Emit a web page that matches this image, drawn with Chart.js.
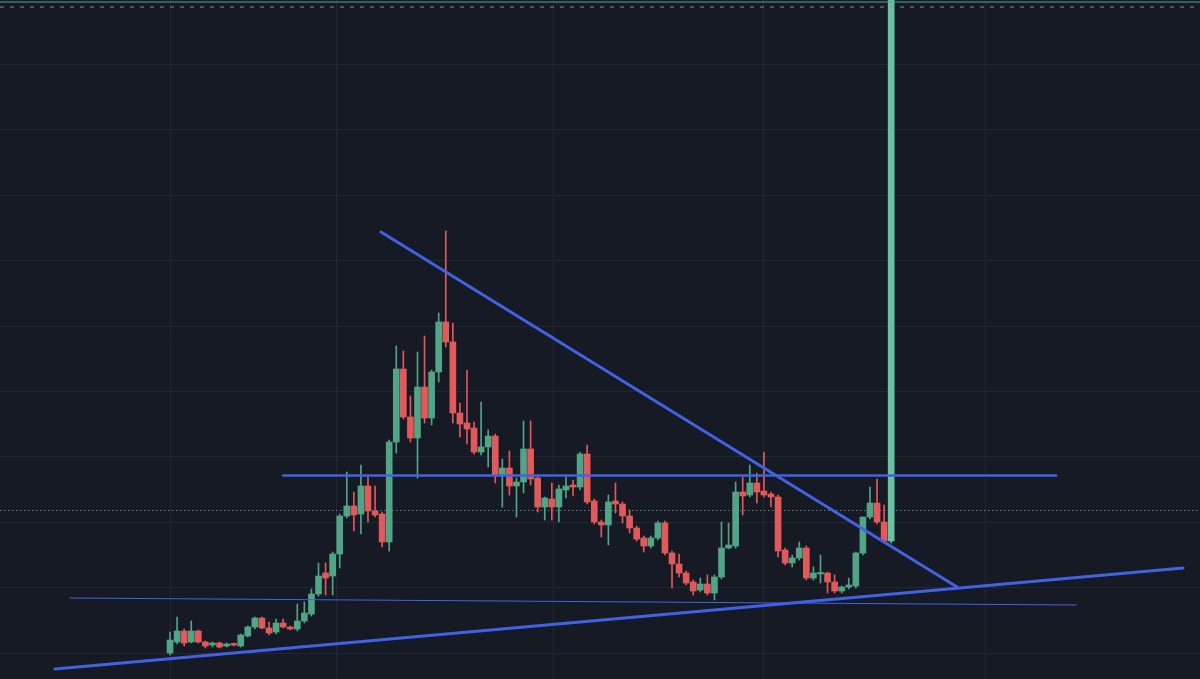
<!DOCTYPE html>
<html>
<head>
<meta charset="utf-8">
<script src="https://cdn.jsdelivr.net/npm/chart.js@4.4.1/dist/chart.umd.min.js"></script>
<style>
  html, body { margin: 0; padding: 0; background: #161a25; }
  #wrap { width: 1200px; height: 679px; }
</style>
</head>
<body>
<div id="wrap"><canvas id="c" width="1200" height="679"></canvas></div>
<script>
// Candle values (arbitrary price units)
const opens = [26,37,48,37,48,37,34,36,33,35,
  33,43,52,61,51,47,56,52,50,58,
  65,85,106,103,125,163,173,165,193,168,
  165,137,237,310,262,241,292,261,307,357,
  337,266,256,251,227,232,243,204,211,193,
  197,230,201,172,180,172,189,194,192,225,
  178,157,154,178,175,163,151,141,133,141,
  156,126,115,106,97,89,95,86,102,131,
  133,187,184,196,188,185,182,129,116,121,
  131,101,105,106,97,88,92,93,126,162,176,157,138];
const highs = [47,62,50,58,49,38,37,37,36,36,
  45,53,62,62,57,60,60,53,75,77,
  90,116,116,127,165,207,187,214,202,193,
  167,239,333,328,283,327,343,309,366,448,
  356,276,309,257,277,249,245,220,228,201,
  258,258,203,182,196,194,202,199,227,234,
  180,159,184,196,177,169,153,143,143,158,
  158,128,125,108,99,101,104,104,157,156,
  197,202,214,206,227,187,184,131,124,137,
  133,112,124,107,104,93,101,127,162,192,200,174,700];
const lows = [24,35,33,36,36,31,32,31,32,33,
  32,42,50,50,44,45,51,49,48,56,
  63,83,84,84,111,161,148,145,157,162,
  132,128,226,260,237,201,256,254,297,332,
  256,242,235,225,224,212,196,172,184,162,
  186,194,167,159,159,157,181,183,189,175,
  155,142,134,166,156,146,138,127,131,139,
  124,91,102,94,84,87,84,79,100,130,
  131,164,182,176,182,172,122,114,112,119,
  99,99,96,86,86,86,90,91,124,160,155,136,136];
const closes = [39,48,36,48,37,33,36,32,35,34,
  44,52,61,51,46,56,52,50,58,66,
  85,103,101,125,163,173,164,193,168,164,
  137,237,310,262,241,292,261,307,357,337,
  266,255,250,227,232,243,204,211,193,197,
  230,200,172,181,172,190,193,192,225,177,
  157,154,177,175,163,151,140,133,141,156,
  126,115,106,96,88,95,86,102,131,134,
  187,183,196,187,184,182,128,116,121,131,
  101,106,106,97,88,92,94,126,162,176,157,138,700];

// Drawn trend lines: [x1, y1, x2, y2] in candle-index / price units
const descendingLine = [29.84, 447, 111.32, 92];
const resistanceLine = [15.98, 203.5, 125.32, 203.5];
const thinSupportLine = [-14.14, 81, 128.15, 74];
const risingSupportLine = [-16.27, 10, 143.28, 111];

// Price lines
const dottedPrice = 168.5;
const dashedPrice = 672;
const lastPriceLine = 677;

// Grid positions (no labels shown)
const gridPrices = [26, 91.4, 156.8, 222.2, 287.6, 353, 418.4, 483.8, 549.2, 614.6];
const gridTimes = [0, 23.6, 54.17, 84.0, 115.3];

const X_MIN = -24.05, X_MAX = 145.68, Y_MIN = 0, Y_MAX = 679;

const GREEN = '#52a487', RED = '#e05a5c', BLUE = '#4262e4';

const idx = opens.map((_, i) => i);
const isUp = i => closes[i] >= opens[i];
const candleColor = ctx => {
  const i = ctx.dataIndex;
  if (i === opens.length - 1) return '#66c2a3';
  return isUp(i) ? GREEN : RED;
};

const bodies = idx.map(i => ({ x: i, y: [opens[i], closes[i]] }));
const wicks = idx.map(i => ({ x: i, y: [lows[i], highs[i]] }));

const seg = a => [{ x: a[0], y: a[1] }, { x: a[2], y: a[3] }];
const hline = v => [{ x: X_MIN, y: v }, { x: X_MAX, y: v }];

const lineDs = (data, color, width, extra) => Object.assign({
  type: 'line', data, borderColor: color, borderWidth: width,
  pointRadius: 0, fill: false, tension: 0, order: 0, borderCapStyle: 'round'
}, extra || {});

new Chart(document.getElementById('c'), {
  type: 'bar',
  data: {
    datasets: [
      lineDs(hline(dottedPrice), '#5e7f7b', 1.2, { borderDash: [1.5, 2.5], order: 3, borderCapStyle: 'butt' }),
      { type: 'bar', data: wicks, backgroundColor: candleColor, barThickness: 1, grouped: false, order: 2, minBarLength: 1 },
      { type: 'bar', data: bodies, backgroundColor: candleColor, barThickness: 6, grouped: false, order: 1, minBarLength: 1.5 },
      lineDs(seg(descendingLine), BLUE, 3),
      lineDs(seg(resistanceLine), BLUE, 2.6),
      lineDs(seg(thinSupportLine), BLUE, 1.2),
      lineDs(seg(risingSupportLine), BLUE, 3),
      lineDs(hline(dashedPrice), '#8a909c', 1.2, { borderDash: [4, 6], borderCapStyle: 'butt' }),
      lineDs(hline(lastPriceLine), '#4da88b', 1.2, { borderCapStyle: 'butt' })
    ]
  },
  options: {
    responsive: false,
    animation: false,
    maintainAspectRatio: false,
    layout: { padding: 0 },
    plugins: { legend: { display: false }, tooltip: { enabled: false } },
    scales: {
      x: {
        type: 'linear', min: X_MIN, max: X_MAX, offset: false,
        afterBuildTicks: s => { s.ticks = gridTimes.map(v => ({ value: v })); },
        ticks: { display: false },
        grid: { color: '#232734', drawTicks: false, lineWidth: 1, offset: false },
        border: { display: false }
      },
      y: {
        type: 'linear', min: Y_MIN, max: Y_MAX,
        afterBuildTicks: s => { s.ticks = gridPrices.map(v => ({ value: v })); },
        ticks: { display: false },
        grid: { color: '#232734', drawTicks: false, lineWidth: 1, offset: false },
        border: { display: false }
      }
    }
  }
});
</script>
</body>
</html>
